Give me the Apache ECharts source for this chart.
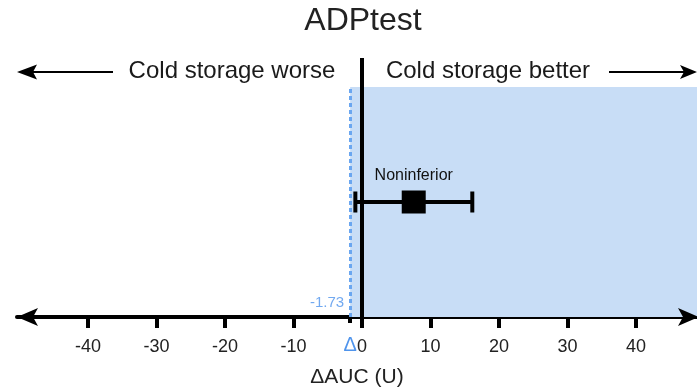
<!DOCTYPE html>
<html>
<head>
<meta charset="utf-8">
<script src="https://cdn.jsdelivr.net/npm/echarts@6/dist/echarts.min.js"></script>
<style>
  html, body { margin: 0; padding: 0; background: #fff; }
  #chart { width: 697px; height: 388px; }
</style>
</head>
<body>
<div id="chart"></div>
<script>
// Noninferiority plot: difference in AUC with its confidence interval
const chartTitle = 'ADPtest';
const xTickValues = [-40, -30, -20, -10, 0, 10, 20, 30, 40];
const xRange = [-50.36, 48.9];
const marginValue = [-1.73];          // noninferiority margin Δ
const estimate = [7.55];              // point estimate of ΔAUC
const ciLow = [-0.97];
const ciHigh = [16.1];
const resultLabel = ['Noninferior'];
const sideLabels = ['Cold storage worse', 'Cold storage better'];
const axisTitle = 'ΔAUC (U)';

const FONT = '"Liberation Sans", Arial, sans-serif';
const BLUE = '#4f94ec';
const rowY = 0.5;

const W = 697, H = 388;
const GRID = { left: 17, right: 0, top: 87, bottom: 71 };
const axisY = H - GRID.bottom;

const chart = echarts.init(document.getElementById('chart'));

const errorData = estimate.map((v, i) => [ciLow[i], ciHigh[i], v, rowY]);

// filled arrow head pointing left (dir = -1) or right (dir = 1)
function arrowHead(tipX, y, dir, len, half, notch) {
  return {
    type: 'polygon',
    z: 100,
    shape: {
      points: [
        [tipX, y],
        [tipX - dir * len, y - half],
        [tipX - dir * (len - notch), y],
        [tipX - dir * len, y + half]
      ]
    },
    style: { fill: '#000' }
  };
}

const option = {
  animation: false,
  grid: Object.assign({ containLabel: false, outerBoundsMode: 'none' }, GRID),
  xAxis: [
    {
      type: 'value',
      min: xRange[0],
      max: xRange[1],
      name: axisTitle,
      nameLocation: 'middle',
      nameGap: 50,
      nameTextStyle: { fontFamily: FONT, fontSize: 21, color: '#222' },
      axisLine: { show: true, lineStyle: { color: '#000', width: 4 } },
      axisTick: {
        show: true,
        customValues: xTickValues,
        length: 11,
        lineStyle: { color: '#000', width: 4 }
      },
      axisLabel: {
        customValues: xTickValues,
        margin: 21,
        fontFamily: FONT,
        fontSize: 18,
        color: '#222'
      },
      splitLine: { show: false }
    },
    {
      type: 'value',
      min: xRange[0],
      max: xRange[1],
      position: 'bottom',
      axisLine: { show: false },
      axisTick: {
        show: true,
        customValues: marginValue,
        length: 6,
        lineStyle: { color: '#000', width: 4 }
      },
      axisLabel: {
        customValues: marginValue,
        formatter: () => 'Δ',
        margin: 18,
        fontFamily: FONT,
        fontSize: 20,
        color: BLUE
      },
      splitLine: { show: false }
    }
  ],
  yAxis: { type: 'value', min: 0, max: 1, show: false },
  series: [
    {
      // shaded noninferior region and the margin line
      type: 'line',
      data: [],
      z: 1,
      markArea: {
        silent: true,
        itemStyle: { color: '#c8ddf6' },
        data: [[{ xAxis: marginValue[0], yAxis: 0 }, { xAxis: xRange[1], yAxis: 1 }]]
      },
      markLine: {
        silent: true,
        symbol: 'none',
        label: { show: false },
        lineStyle: { color: '#6aa6f0', width: 3, type: [4, 3] },
        data: [{ xAxis: marginValue[0] }]
      }
    },
    {
      // zero reference line
      type: 'line',
      data: [[0, 0], [0, 1.126]],
      clip: false,
      symbol: 'none',
      z: 4,
      lineStyle: { color: '#000', width: 4 }
    },
    {
      // margin value label
      type: 'scatter',
      data: marginValue.map(v => [v, 0.061]),
      symbolSize: 0,
      z: 5,
      label: {
        show: true,
        position: 'left',
        distance: 6,
        formatter: p => String(p.value[0]),
        fontFamily: FONT,
        fontSize: 15,
        color: BLUE
      }
    },
    {
      // confidence interval whiskers
      type: 'custom',
      z: 6,
      data: errorData,
      encode: { x: [0, 1, 2], y: 3 },
      renderItem: (params, api) => {
        const y = api.value(3);
        const a = api.coord([api.value(0), y]);
        const b = api.coord([api.value(1), y]);
        const cap = 10.5;
        const style = { stroke: '#000', lineWidth: 4 };
        return {
          type: 'group',
          children: [
            { type: 'line', shape: { x1: a[0], y1: a[1], x2: b[0], y2: b[1] }, style },
            { type: 'line', shape: { x1: a[0], y1: a[1] - cap, x2: a[0], y2: a[1] + cap }, style },
            { type: 'line', shape: { x1: b[0], y1: b[1] - cap, x2: b[0], y2: b[1] + cap }, style }
          ]
        };
      }
    },
    {
      // point estimate
      type: 'scatter',
      z: 7,
      data: estimate.map(v => [v, rowY]),
      symbol: 'rect',
      symbolSize: [24, 23],
      itemStyle: { color: '#000', opacity: 1 },
      label: {
        show: true,
        position: 'top',
        distance: 7,
        formatter: p => resultLabel[p.dataIndex],
        fontFamily: FONT,
        fontSize: 16,
        color: '#111'
      }
    }
  ],
  graphic: [
    {
      type: 'text', x: 363, y: 21,
      style: { text: chartTitle, font: '32px ' + FONT, fill: '#222', align: 'center', verticalAlign: 'middle' }
    },
    {
      type: 'text', x: 232, y: 71,
      style: { text: sideLabels[0], font: '24px ' + FONT, fill: '#1a1a1a', align: 'center', verticalAlign: 'middle' }
    },
    {
      type: 'text', x: 488, y: 71,
      style: { text: sideLabels[1], font: '24px ' + FONT, fill: '#1a1a1a', align: 'center', verticalAlign: 'middle' }
    },
    { type: 'line', shape: { x1: 30, y1: 72, x2: 113, y2: 72 }, style: { stroke: '#000', lineWidth: 2 } },
    arrowHead(17, 72, -1, 20, 7.5, 4),
    { type: 'line', shape: { x1: 609, y1: 72, x2: 684, y2: 72 }, style: { stroke: '#000', lineWidth: 2 } },
    arrowHead(697, 72, 1, 17, 7, 4),
    // arrow heads on both ends of the x axis
    arrowHead(17, axisY, -1, 21, 9, 5),
    arrowHead(699, axisY, 1, 21, 9, 5)
  ]
};

chart.setOption(option);
</script>
</body>
</html>
